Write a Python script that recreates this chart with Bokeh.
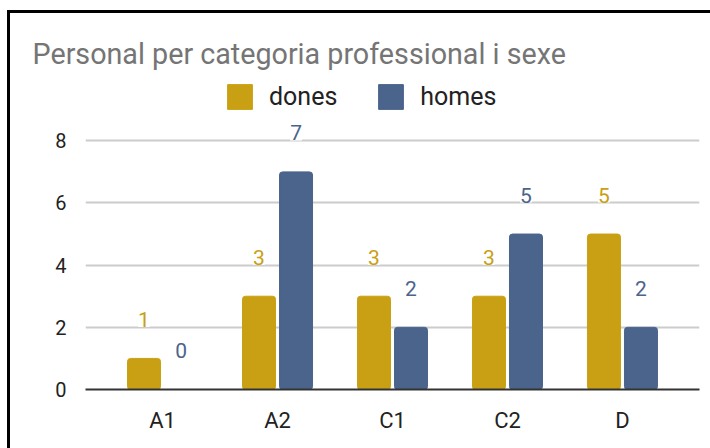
from bokeh.plotting import figure
from bokeh.models import ColumnDataSource, FactorRange, LabelSet, Legend, LegendItem
from bokeh.core.properties import value
from bokeh.transform import dodge
from bokeh.embed import file_html
from bokeh.resources import INLINE

categories = ["A1", "A2", "C1", "C2", "D"]
dones = [1, 3, 3, 3, 5]
homes = [0, 7, 2, 5, 2]
y_ticks = [0, 2, 4, 6, 8]
title_text = "Personal per categoria professional i sexe"

GOLD = "#c9a013"
BLUE = "#4b648c"
FONT = "Roboto"

src = ColumnDataSource(dict(cat=categories, dones=dones, homes=homes,
                            dones_txt=[str(v) for v in dones],
                            homes_txt=[str(v) for v in homes]))

p = figure(width=710, height=448, output_backend="svg", toolbar_location=None,
           x_range=FactorRange(factors=categories, range_padding=0.068),
           y_range=(0, 10.1), min_border_left=85, min_border_right=11,
           min_border_bottom=59, min_border_top=75)
p.styles = {"box-shadow": "inset 7px 10px 0px 0px white, inset 10px 13px 0px 0px black"}
p.border_fill_alpha = 0
p.outline_line_color = None

r1 = p.vbar(x=dodge("cat", -0.161, range=p.x_range), top="dones", width=0.287,
            source=src, color=GOLD, border_radius=3)
r2 = p.vbar(x=dodge("cat", 0.161, range=p.x_range), top="homes", width=0.287,
            source=src, color=BLUE, border_radius=3)

for field, txt, off, col in (("dones", "dones_txt", -0.161, GOLD), ("homes", "homes_txt", 0.161, BLUE)):
    ls = LabelSet(x=dodge("cat", off, range=p.x_range), y=field, text=txt, source=src,
                  y_offset=39, text_align="center", text_baseline="middle",
                  text_color=col, text_font=value(FONT), text_font_size="21px",
                  background_fill_color="white", background_fill_alpha=1.0)
    p.add_layout(ls)

p.title.text = title_text
p.title.text_font = FONT
p.title.text_font_size = "28.7px"
p.title.text_font_style = "normal"
p.title.text_color = "#757575"
p.title.offset = -53
p.title.standoff = 10

legend = Legend(items=[LegendItem(label="dones", renderers=[r1]),
                       LegendItem(label="homes", renderers=[r2])],
                orientation="horizontal", location=(139, 277))
legend.glyph_width = 31
legend.glyph_height = 31
legend.label_standoff = 14
legend.spacing = 38
legend.padding = 0
legend.margin = 0
legend.border_line_color = None
legend.background_fill_alpha = 0
legend.label_text_font = FONT
legend.label_text_font_size = "25px"
legend.label_text_color = "#222222"
p.add_layout(legend)

p.yaxis.ticker = y_ticks
p.yaxis.axis_line_color = None
p.yaxis.major_tick_line_color = None
p.yaxis.minor_tick_line_color = None
p.yaxis.major_label_standoff = 13
p.yaxis.major_label_text_font = FONT
p.yaxis.major_label_text_font_size = "20px"
p.yaxis.major_label_text_color = "#222222"

p.xaxis.axis_line_color = "#333333"
p.xaxis.axis_line_width = 2
p.xaxis.major_tick_line_color = None
p.xaxis.minor_tick_line_color = None
p.xaxis.major_label_standoff = 12
p.xaxis.major_label_text_font = FONT
p.xaxis.major_label_text_font_size = "22px"
p.xaxis.major_label_text_color = "#222222"

p.xgrid.grid_line_color = None
p.ygrid.grid_line_color = "#cccccc"
p.ygrid.grid_line_width = 2

open("out.html", "w").write(file_html(p, INLINE))
